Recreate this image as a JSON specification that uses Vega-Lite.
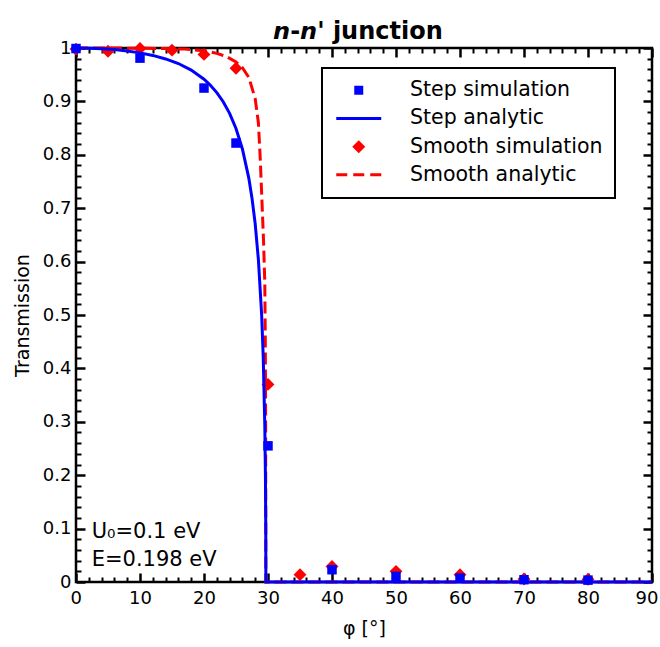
{
  "$schema": "https://vega.github.io/schema/vega-lite/v6.json",
  "autosize": {"type": "none"},
  "padding": {"left": 76, "top": 48, "right": 8, "bottom": 65},
  "width": 576,
  "height": 534,
  "background": "white",
  "title": {"text": "𝙣-𝙣' junction", "font": "DejaVu Sans", "fontSize": 24, "fontWeight": "bold", "anchor": "middle", "offset": -5, "color": "black", "dx": -6},
  "config": {
    "view": {"stroke": "black", "strokeWidth": 2.5},
    "axis": {"labelFont": "DejaVu Sans", "titleFont": "DejaVu Sans", "labelColor": "black", "titleColor": "black", "grid": false, "domain": false, "labelFlush": false, "labelOverlap": false, "tickColor": "black", "titleFontWeight": "normal"},
    "legend": {"labelFont": "DejaVu Sans"}
  },
  "datasets": {
    "main": [
      {"series": "Step simulation", "phi": 0, "T": 0.999},
      {"series": "Step simulation", "phi": 10, "T": 0.981},
      {"series": "Step simulation", "phi": 20, "T": 0.925},
      {"series": "Step simulation", "phi": 25, "T": 0.822},
      {"series": "Step simulation", "phi": 30, "T": 0.255},
      {"series": "Step simulation", "phi": 40, "T": 0.023},
      {"series": "Step simulation", "phi": 50, "T": 0.0105},
      {"series": "Step simulation", "phi": 60, "T": 0.0075},
      {"series": "Step simulation", "phi": 70, "T": 0.0043},
      {"series": "Step simulation", "phi": 80, "T": 0.0035},
      {"series": "Smooth simulation", "phi": 0, "T": 0.998},
      {"series": "Smooth simulation", "phi": 5, "T": 0.994},
      {"series": "Smooth simulation", "phi": 10, "T": 0.999},
      {"series": "Smooth simulation", "phi": 15, "T": 0.996},
      {"series": "Smooth simulation", "phi": 20, "T": 0.988},
      {"series": "Smooth simulation", "phi": 25, "T": 0.962},
      {"series": "Smooth simulation", "phi": 30, "T": 0.37},
      {"series": "Smooth simulation", "phi": 35, "T": 0.0137},
      {"series": "Smooth simulation", "phi": 40, "T": 0.029},
      {"series": "Smooth simulation", "phi": 50, "T": 0.02},
      {"series": "Smooth simulation", "phi": 60, "T": 0.0137},
      {"series": "Smooth simulation", "phi": 70, "T": 0.0056},
      {"series": "Smooth simulation", "phi": 80, "T": 0.005},
      {"series": "Step analytic", "phi": 0, "T": 1},
      {"series": "Step analytic", "phi": 2, "T": 0.9997},
      {"series": "Step analytic", "phi": 4, "T": 0.9987},
      {"series": "Step analytic", "phi": 6, "T": 0.997},
      {"series": "Step analytic", "phi": 8, "T": 0.9945},
      {"series": "Step analytic", "phi": 10, "T": 0.9909},
      {"series": "Step analytic", "phi": 12, "T": 0.9861},
      {"series": "Step analytic", "phi": 14, "T": 0.9795},
      {"series": "Step analytic", "phi": 16, "T": 0.9709},
      {"series": "Step analytic", "phi": 18, "T": 0.9586},
      {"series": "Step analytic", "phi": 20, "T": 0.9415},
      {"series": "Step analytic", "phi": 21, "T": 0.9303},
      {"series": "Step analytic", "phi": 22, "T": 0.9164},
      {"series": "Step analytic", "phi": 23, "T": 0.8994},
      {"series": "Step analytic", "phi": 24, "T": 0.8777},
      {"series": "Step analytic", "phi": 25, "T": 0.8493},
      {"series": "Step analytic", "phi": 26, "T": 0.8109},
      {"series": "Step analytic", "phi": 27, "T": 0.7563},
      {"series": "Step analytic", "phi": 27.5, "T": 0.7188},
      {"series": "Step analytic", "phi": 28, "T": 0.6707},
      {"series": "Step analytic", "phi": 28.5, "T": 0.6035},
      {"series": "Step analytic", "phi": 29, "T": 0.5023},
      {"series": "Step analytic", "phi": 29.25, "T": 0.4235},
      {"series": "Step analytic", "phi": 29.5, "T": 0.2936},
      {"series": "Step analytic", "phi": 29.6, "T": 0.197},
      {"series": "Step analytic", "phi": 29.65, "T": 0.1031},
      {"series": "Step analytic", "phi": 29.667, "T": 0},
      {"series": "Step analytic", "phi": 90, "T": 0},
      {"series": "Smooth analytic", "phi": 0, "T": 1},
      {"series": "Smooth analytic", "phi": 5, "T": 1},
      {"series": "Smooth analytic", "phi": 10, "T": 0.9995},
      {"series": "Smooth analytic", "phi": 14, "T": 0.999},
      {"series": "Smooth analytic", "phi": 17, "T": 0.998},
      {"series": "Smooth analytic", "phi": 20, "T": 0.995},
      {"series": "Smooth analytic", "phi": 22, "T": 0.99},
      {"series": "Smooth analytic", "phi": 23.5, "T": 0.984},
      {"series": "Smooth analytic", "phi": 25, "T": 0.974},
      {"series": "Smooth analytic", "phi": 26, "T": 0.963},
      {"series": "Smooth analytic", "phi": 27, "T": 0.945},
      {"series": "Smooth analytic", "phi": 28, "T": 0.905},
      {"series": "Smooth analytic", "phi": 28.5, "T": 0.86},
      {"series": "Smooth analytic", "phi": 28.8, "T": 0.79},
      {"series": "Smooth analytic", "phi": 29, "T": 0.73},
      {"series": "Smooth analytic", "phi": 29.3, "T": 0.64},
      {"series": "Smooth analytic", "phi": 29.5, "T": 0.56},
      {"series": "Smooth analytic", "phi": 29.58, "T": 0.45},
      {"series": "Smooth analytic", "phi": 29.63, "T": 0.3},
      {"series": "Smooth analytic", "phi": 29.667, "T": 0},
      {"series": "Smooth analytic", "phi": 90, "T": 0}
    ]
  },
  "data": {"name": "main"},
  "resolve": {"axis": {"x": "independent", "y": "independent"}},
  "layer": [
    {
      "transform": [{"filter": "datum.series === 'Smooth analytic'"}],
      "mark": {"type": "line", "strokeWidth": 3, "strokeDash": [12, 5]},
      "encoding": {
        "x": {"field": "phi", "type": "quantitative", "scale": {"domain": [0, 90], "nice": false, "zero": false},
              "axis": {"orient": "bottom", "values": [0,10,20,30,40,50,60,70,80,90], "ticks": true, "tickSize": -9, "tickWidth": 2.5, "labelFontSize": 18, "labelPadding": 16, "labelFlush": true, "labelFlushOffset": 6, "title": "φ [°]", "titleFontSize": 19, "titlePadding": 12}},
        "y": {"field": "T", "type": "quantitative", "scale": {"domain": [0, 1], "nice": false, "zero": false},
              "axis": {"orient": "left", "values": [0,0.1,0.2,0.3,0.4,0.5,0.6,0.7,0.8,0.9,1], "format": "~g", "ticks": true, "tickSize": -9, "tickWidth": 2.5, "labelFontSize": 18, "labelPadding": 14, "title": "Transmission", "titleFontSize": 19, "titlePadding": 10}},
        "color": {"field": "series", "type": "nominal",
                  "scale": {"domain": ["Step simulation", "Step analytic", "Smooth simulation", "Smooth analytic"], "range": ["#0000ff", "#0000ff", "#ff0000", "#ff0000"]},
                  "legend": {"orient": "none", "legendX": 246, "legendY": 20, "title": null, "strokeColor": "black", "fillColor": "white", "padding": 12, "labelFontSize": 20.5, "labelColor": "black", "labelLimit": 400, "symbolSize": 100, "symbolOffset": 14.5, "labelOffset": 41, "rowPadding": 7.2,
                    "encode": {
                      "legend": {"update": {"strokeWidth": {"value": 2}}},
                      "symbols": {"update": {
                      "shape": {"signal": "datum.value === 'Step simulation' ? 'square' : (datum.value === 'Smooth simulation' ? 'diamond' : 'stroke')"},
                      "size": {"signal": "(datum.value === 'Step analytic' || datum.value === 'Smooth analytic') ? 2025 : (datum.value === 'Smooth simulation' ? 169 : 81)"},
                      "fill": {"scale": "color", "field": "value"},
                      "stroke": {"scale": "color", "field": "value"},
                      "strokeWidth": {"signal": "(datum.value === 'Step analytic' || datum.value === 'Smooth analytic') ? 3 : 0"},
                      "strokeDash": {"signal": "datum.value === 'Smooth analytic' ? [11, 6] : [1, 0]"},
                      "opacity": {"value": 1}
                    }}}}}
      }
    },
    {
      "transform": [{"filter": "datum.series === 'Smooth simulation'"}],
      "mark": {"type": "point", "shape": "diamond", "filled": true, "size": 165, "opacity": 1, "strokeWidth": 0},
      "encoding": {
        "x": {"field": "phi", "type": "quantitative", "axis": {"orient": "bottom", "values": [2,4,6,8,12,14,16,18,22,24,26,28,32,34,36,38,42,44,46,48,52,54,56,58,62,64,66,68,72,74,76,78,82,84,86,88], "labels": false, "tickSize": -5, "tickWidth": 2, "title": null}},
        "y": {"field": "T", "type": "quantitative", "axis": {"orient": "left", "values": [0.02,0.04,0.06,0.08,0.12,0.14,0.16,0.18,0.22,0.24,0.26,0.28,0.32,0.34,0.36,0.38,0.42,0.44,0.46,0.48,0.52,0.54,0.56,0.58,0.62,0.64,0.66,0.68,0.72,0.74,0.76,0.78,0.82,0.84,0.86,0.88,0.92,0.94,0.96,0.98], "labels": false, "tickSize": -5, "tickWidth": 2, "title": null}},
        "color": {"field": "series", "type": "nominal"}
      }
    },
    {
      "transform": [{"filter": "datum.series === 'Step analytic'"}],
      "mark": {"type": "line", "strokeWidth": 3},
      "encoding": {
        "x": {"field": "phi", "type": "quantitative", "axis": {"orient": "top", "values": [0,10,20,30,40,50,60,70,80,90], "labels": false, "tickSize": -9, "tickWidth": 2.5, "title": null}},
        "y": {"field": "T", "type": "quantitative", "axis": {"orient": "right", "values": [0,0.1,0.2,0.3,0.4,0.5,0.6,0.7,0.8,0.9,1], "labels": false, "tickSize": -9, "tickWidth": 2.5, "title": null}},
        "color": {"field": "series", "type": "nominal"}
      }
    },
    {
      "transform": [{"filter": "datum.series === 'Step simulation'"}],
      "mark": {"type": "point", "shape": "square", "filled": true, "size": 90, "opacity": 1, "strokeWidth": 0},
      "encoding": {
        "x": {"field": "phi", "type": "quantitative", "axis": {"orient": "top", "values": [2,4,6,8,12,14,16,18,22,24,26,28,32,34,36,38,42,44,46,48,52,54,56,58,62,64,66,68,72,74,76,78,82,84,86,88], "labels": false, "tickSize": -5, "tickWidth": 2, "title": null}},
        "y": {"field": "T", "type": "quantitative", "axis": {"orient": "right", "values": [0.02,0.04,0.06,0.08,0.12,0.14,0.16,0.18,0.22,0.24,0.26,0.28,0.32,0.34,0.36,0.38,0.42,0.44,0.46,0.48,0.52,0.54,0.56,0.58,0.62,0.64,0.66,0.68,0.72,0.74,0.76,0.78,0.82,0.84,0.86,0.88,0.92,0.94,0.96,0.98], "labels": false, "tickSize": -5, "tickWidth": 2, "title": null}},
        "color": {"field": "series", "type": "nominal"}
      }
    },
    {
      "data": {"values": [{"label": "U₀=0.1 eV"}]},
      "mark": {"type": "text", "align": "left", "baseline": "middle", "font": "DejaVu Sans", "fontSize": 21, "color": "black"},
      "encoding": {
        "x": {"datum": 2.45, "type": "quantitative", "axis": null},
        "y": {"datum": 0.094, "type": "quantitative", "axis": null},
        "text": {"field": "label"}
      }
    },
    {
      "data": {"values": [{"label": "E=0.198 eV"}]},
      "mark": {"type": "text", "align": "left", "baseline": "middle", "font": "DejaVu Sans", "fontSize": 21, "color": "black"},
      "encoding": {
        "x": {"datum": 2.45, "type": "quantitative", "axis": null},
        "y": {"datum": 0.041, "type": "quantitative", "axis": null},
        "text": {"field": "label"}
      }
    }
  ]
}
